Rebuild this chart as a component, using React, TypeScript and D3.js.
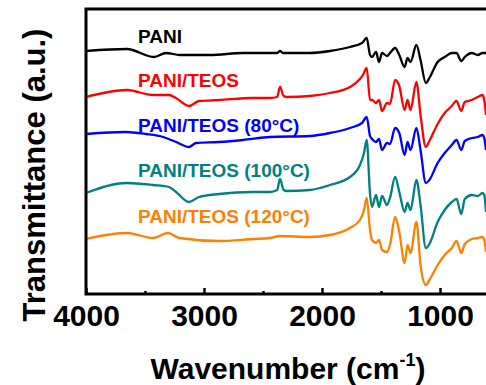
import { useEffect, useRef } from 'react';
import * as d3 from 'd3';

const WIDTH = 486;
const HEIGHT = 385;

// shared wavenumbers of the fingerprint region (cm-1)
const FP_WN = [1576, 1542, 1517, 1491, 1449, 1424, 1380, 1345, 1300, 1275, 1250, 1200, 1165, 1120, 1090, 1020, 960, 900, 860, 820, 790, 730, 680, 640, 625, 610];

// high-wavenumber part of each spectrum: [wavenumber, transmittance a.u.]
const PANI_HI: [number, number][] = [
  [4000, 243], [3653, 245], [3424, 237], [3322, 241], [3203, 239], [2949, 239], [2669, 241],
  [2441, 241], [2380, 241], [2356, 243], [2330, 241], [2102, 241], [1932, 243], [1763, 247],
  [1661, 251], [1621, 256], [1593, 239],
];
const TEOS_HI: [number, number][] = [
  [4000, 197], [3653, 204], [3432, 199], [3297, 199], [3237, 196], [3127, 188], [3042, 193],
  [2873, 194], [2585, 196], [2441, 196], [2380, 197], [2356, 207], [2325, 198], [2297, 197],
  [2102, 198], [1932, 201], [1763, 207], [1678, 215], [1653, 219], [1621, 226], [1593, 194],
];
const T80_HI: [number, number][] = [
  [4000, 160], [3661, 162], [3492, 160], [3347, 157], [3237, 152], [3127, 147], [3068, 151],
  [2873, 152], [2669, 154], [2441, 157], [2102, 158], [1932, 161], [1763, 166], [1661, 171],
  [1621, 177], [1593, 158],
];
const T100_HI: [number, number][] = [
  [4000, 101], [3653, 111], [3432, 109], [3297, 107], [3237, 102], [3127, 92], [3042, 97],
  [2873, 100], [2585, 102], [2441, 102], [2380, 104], [2356, 115], [2325, 104], [2297, 103],
  [2102, 104], [1932, 109], [1763, 117], [1678, 129], [1644, 141], [1621, 154], [1593, 100],
];
const T120_HI: [number, number][] = [
  [4000, 55], [3653, 61], [3432, 56], [3305, 61], [3212, 56], [2873, 53], [2585, 55],
  [2441, 56], [2356, 58], [2102, 57], [1932, 59], [1763, 66], [1678, 74], [1644, 84],
  [1621, 96], [1593, 64],
];

// fingerprint values, one per FP_WN entry
const PANI_FP = [237, 242, 232, 241, 238, 241, 246, 239, 227, 236, 232, 249, 234, 211, 216, 232, 237, 241, 241, 233, 237, 241, 239, 241, 241, 241];
const TEOS_FP = [194, 191, 194, 183, 191, 190, 214, 208, 184, 194, 184, 212, 179, 147, 153, 170, 181, 188, 193, 183, 192, 194, 197, 199, 194, 179];
const T80_FP = [155, 152, 155, 144, 151, 150, 166, 161, 139, 152, 144, 166, 144, 111, 114, 131, 141, 149, 154, 144, 153, 156, 157, 159, 156, 144];
const T100_FP = [87, 99, 87, 98, 89, 96, 117, 102, 82, 91, 84, 114, 89, 46, 50, 72, 84, 92, 95, 80, 95, 99, 98, 101, 99, 82];
const T120_FP = [54, 51, 54, 44, 42, 49, 77, 62, 31, 49, 41, 72, 29, 9, 14, 29, 39, 46, 53, 41, 50, 55, 56, 57, 54, 42];

const LABELS = ['PANI', 'PANI/TEOS', 'PANI/TEOS (80°C)', 'PANI/TEOS (100°C)', 'PANI/TEOS (120°C)'];
const COLORS = ['#000000', '#ff0000', '#0000ff', '#008080', '#ff8000'];
// label baseline height in data units
const LABEL_Y = [251, 207, 162, 117, 71];

const MAJOR_TICKS = [4000, 3000, 2000, 1000];
const MINOR_TICKS = [3500, 2500, 1500];

const FONT = '"Liberation Sans", Arial, sans-serif';

export default function App() {
  const svgRef = useRef<SVGSVGElement>(null);

  useEffect(() => {
    if (!svgRef.current) return;
    const svg = d3.select(svgRef.current);
    svg.selectAll('*').remove();

    const left = 86;
    const top = 9;
    const bottom = 294;

    const x = d3.scaleLinear().domain([4000, 400]).range([left, left + 3600 * 0.118]);
    const y = d3.scaleLinear().domain([0, 285]).range([bottom, top]);

    const build = (hi: [number, number][], fp: number[]) =>
      hi.concat(FP_WN.map((w, i) => [w, fp[i]] as [number, number]));
    const series = [
      build(PANI_HI, PANI_FP),
      build(TEOS_HI, TEOS_FP),
      build(T80_HI, T80_FP),
      build(T100_HI, T100_FP),
      build(T120_HI, T120_FP),
    ];

    svg
      .append('clipPath')
      .attr('id', 'plot-clip')
      .append('rect')
      .attr('x', left)
      .attr('y', top)
      .attr('width', WIDTH - left)
      .attr('height', bottom - top);

    const line = d3
      .line<[number, number]>()
      .x((d) => x(d[0]))
      .y((d) => y(d[1]))
      .curve(d3.curveMonotoneX);

    const g = svg.append('g').attr('clip-path', 'url(#plot-clip)');
    series.forEach((s, i) => {
      g.append('path')
        .datum(s)
        .attr('d', line)
        .attr('fill', 'none')
        .attr('stroke', COLORS[i])
        .attr('stroke-width', 2.3)
        .attr('stroke-linejoin', 'round');
    });

    // Labels
    LABELS.forEach((t, i) => {
      svg
        .append('text')
        .attr('x', 138)
        .attr('y', y(LABEL_Y[i]))
        .attr('font-family', FONT)
        .attr('font-weight', 'bold')
        .attr('font-size', 19)
        .attr('fill', COLORS[i])
        .text(t);
    });

    // Frame
    svg
      .append('path')
      .attr('d', `M${WIDTH + 5},${top}H${left}V${bottom}H${WIDTH + 5}`)
      .attr('fill', 'none')
      .attr('stroke', '#000')
      .attr('stroke-width', 3);

    // Bottom axis ticks (inward)
    const xAxis = svg
      .append('g')
      .attr('transform', `translate(0,${bottom})`)
      .call(d3.axisBottom(x).tickValues(MAJOR_TICKS).tickSize(-6).tickFormat(d3.format('d')));
    xAxis.select('.domain').remove();
    xAxis.selectAll('line').attr('stroke-width', 2.5);
    xAxis
      .selectAll('text')
      .attr('dy', null)
      .attr('y', 32)
      .attr('font-family', FONT)
      .attr('font-weight', 'bold')
      .attr('font-size', 30)
      .attr('fill', '#000');

    const minor = svg
      .append('g')
      .attr('transform', `translate(0,${bottom})`)
      .call(d3.axisBottom(x).tickValues(MINOR_TICKS).tickSize(-3).tickFormat(() => ''));
    minor.select('.domain').remove();
    minor.selectAll('line').attr('stroke-width', 2.5);

    // Axis titles
    const xt = svg
      .append('text')
      .attr('x', 288)
      .attr('y', 379)
      .attr('text-anchor', 'middle')
      .attr('font-family', FONT)
      .attr('font-weight', 'bold')
      .attr('font-size', 30);
    xt.append('tspan').text('Wavenumber (cm');
    xt.append('tspan').attr('font-size', 18).attr('dy', -13).text('-1');
    xt.append('tspan').attr('dy', 13).text(')');

    svg
      .append('text')
      .attr('transform', `translate(45,${175}) rotate(-90)`)
      .attr('text-anchor', 'middle')
      .attr('font-family', FONT)
      .attr('font-weight', 'bold')
      .attr('font-size', 31)
      .text('Transmittance (a.u.)');
  }, []);

  return (
    <div style={{ position: 'absolute', left: 0, top: 0, width: WIDTH, height: HEIGHT, background: '#fff' }}>
      <svg ref={svgRef} width={WIDTH} height={HEIGHT} />
    </div>
  );
}
